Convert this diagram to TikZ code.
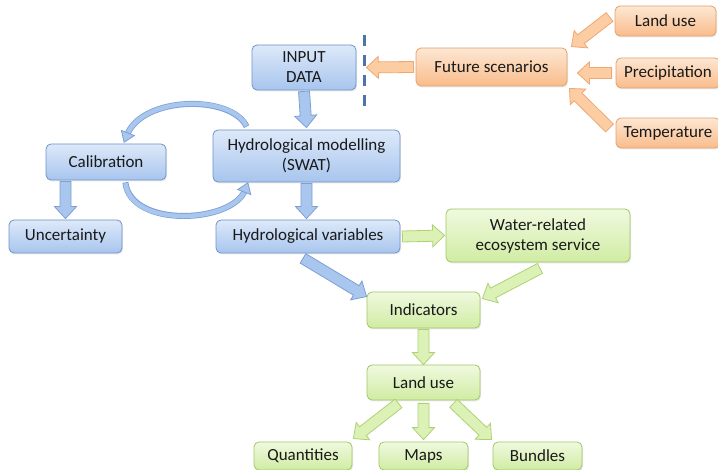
\documentclass[tikz,border=0pt]{standalone}
\usepackage{fontspec}
\setmainfont{Carlito}
\usetikzlibrary{calc,decorations.markings,shadows}
\definecolor{btop}{HTML}{DDE9F9}
\definecolor{bbot}{HTML}{A8C5EE}
\definecolor{bline}{HTML}{6F93C9}
\definecolor{otop}{HTML}{FDE7D3}
\definecolor{obot}{HTML}{F9BC8B}
\definecolor{oline}{HTML}{E3A26A}
\definecolor{gtop}{HTML}{F0F9DF}
\definecolor{gbot}{HTML}{D0ECA3}
\definecolor{gline}{HTML}{A0C867}
\definecolor{bafill}{HTML}{A9C6EE}
\definecolor{baline}{HTML}{7DA0D3}
\definecolor{oafill}{HTML}{FCCCA2}
\definecolor{oaline}{HTML}{EFA874}
\definecolor{gafill}{HTML}{DBF1B6}
\definecolor{galine}{HTML}{AED273}
\definecolor{dashcol}{HTML}{4F74A8}
\tikzset{
  box/.style={rounded corners=5pt, line width=0.8pt, align=center, inner sep=2pt,
    font=\fontsize{17}{20}\selectfont, text=black!90,
    drop shadow={opacity=0.18, shadow xshift=1pt, shadow yshift=-1.5pt}},
  bbox/.style={box, draw=bline, top color=btop, bottom color=bbot},
  obox/.style={box, draw=oline, top color=otop, bottom color=obot},
  gbox/.style={box, draw=gline, top color=gtop, bottom color=gbot},
  fat/.style 2 args={decorate, decoration={markings, mark=at position 0pt with {
    \filldraw[fill=#1, draw=#2, line width=0.8pt, line join=miter]
      (0pt,-5.5pt) -- ({\pgfdecoratedpathlength-12pt},-5.5pt) -- ({\pgfdecoratedpathlength-12pt},-11pt)
      -- (\pgfdecoratedpathlength,0pt) -- ({\pgfdecoratedpathlength-12pt},11pt)
      -- ({\pgfdecoratedpathlength-12pt},5.5pt) -- (0pt,5.5pt) -- cycle;}}},
  fatb/.style={fat={bafill}{baline}},
  fato/.style={fat={oafill}{oaline}},
  fatg/.style={fat={gafill}{galine}},
  ribout/.style={line width=6pt, draw=baline, shorten >=7pt},
  ribin/.style={line width=4.4pt, draw=bafill, shorten >=7pt, shorten <=0.8pt},
  ribtip/.style={decorate, decoration={markings, mark=at position 0.998 with {
    \filldraw[fill=bafill, draw=baline, line width=0.8pt, line join=miter]
      (1pt,0pt) -- (-9pt,-7pt) -- (-9pt,7pt) -- cycle;}}},
  dashsep/.style={draw=dashcol, line width=3pt, dash pattern=on 11pt off 9pt}
}
\begin{document}
\begin{tikzpicture}[x=1pt,y=1pt]
\useasboundingbox[fill=white] (0,0) rectangle (718,-470);

% nodes
\node[bbox, minimum width=104pt, minimum height=45pt] (inp) at (304,-67.5) {INPUT\\DATA};
\node[obox, minimum width=151pt, minimum height=38pt] (fut) at (491.5,-67) {Future scenarios};
\node[obox, minimum width=101pt, minimum height=30pt] (lu1) at (665.5,-21) {Land use};
\node[obox, minimum width=104pt, minimum height=30pt] (prec) at (668,-73) {Precipitation};
\node[obox, minimum width=104pt, minimum height=30pt] (temp) at (668,-133) {Temperature};
\node[bbox, minimum width=187pt, minimum height=52pt] (hm) at (306.5,-156) {Hydrological modelling\\(SWAT)};
\node[bbox, minimum width=120pt, minimum height=36pt] (cal) at (106,-162) {Calibration};
\node[bbox, minimum width=113pt, minimum height=33pt] (unc) at (65.5,-236.5) {Uncertainty};
\node[bbox, minimum width=184pt, minimum height=33pt] (hv) at (308,-236.5) {Hydrological variables};
\node[gbox, minimum width=184pt, minimum height=53pt] (wr) at (538,-235.5) {Water-related\\ecosystem service};
\node[gbox, minimum width=113pt, minimum height=36pt] (ind) at (423.5,-310) {Indicators};
\node[gbox, minimum width=113pt, minimum height=35pt] (lu2) at (423.5,-382.5) {Land use};
\node[gbox, minimum width=98pt, minimum height=28pt] (qua) at (303,-456) {Quantities};
\node[gbox, minimum width=89pt, minimum height=28pt] (maps) at (423.5,-456) {Maps};
\node[gbox, minimum width=89pt, minimum height=28pt] (bun) at (537.5,-456) {Bundles};

% dashed separator
\coordinate (d1) at (364,-35);
\coordinate (d2) at (364,-106);
\draw[dashsep] (d1) -- (d2);

% orange arrows
\path[fato] ($(fut.west)+(-2,0)$) -- ($(inp.east)+(10,0)$);
\path[fato] ($(lu1.west)+(-5,4)$) -- ($(fut.north east)+(4,1)$);
\path[fato] ($(prec.west)+(-4,0)$) -- ($(fut.east)+(10,-6)$);
\path[fato] ($(temp.west)+(-6,5)$) -- ($(fut.south east)+(2,-2)$);

% blue arrows
\path[fatb] ($(inp.south)+(0,-1)$) -- ($(hm.north)+(0,2)$);
\path[fatb] ($(hm.south)+(0,-1)$) -- ($(hm.south |- hv.north)+(0,1)$);
\path[fatb] ($(unc.north |- cal.south)+(0,-1)$) -- ($(unc.north)+(0,1)$);
\path[fatb] ($(hv.south)+(-5,-5)$) -- ($(ind.north west)+(0,-5)$);

% green arrows
\path[fatg] ($(hv.east)+(2,0)$) -- ($(wr.west)+(-1,0)$);
\path[fatg] ($(wr.south)+(2,-6)$) -- ($(ind.north east)+(2,-7)$);
\path[fatg] ($(ind.south)+(0,-1)$) -- ($(lu2.north)+(0,0)$);
\path[fatg] ($(lu2.south)+(-25,-3)$) -- ($(qua.north east)+(1,3)$);
\path[fatg] ($(lu2.south)+(0,-3)$) -- ($(maps.north)+(0,2)$);
\path[fatg] ($(lu2.south)+(30,-3)$) -- ($(bun.north west)+(-1,2)$);

% calibration loop
\draw[ribout] ($(hm.north west)+(34,3)$) .. controls +(-15,32) and +(18,46) .. ($(cal.north east)+(-42,2)$);
\draw[ribin] ($(hm.north west)+(34,3)$) .. controls +(-15,32) and +(18,46) .. ($(cal.north east)+(-42,2)$);
\path[ribtip] ($(hm.north west)+(34,3)$) .. controls +(-15,32) and +(18,46) .. ($(cal.north east)+(-42,2)$);
\draw[ribout] ($(cal.south east)+(-41,-2)$) .. controls +(5,-46) and +(-15,-40) .. ($(hm.south west)+(35,-1)$);
\draw[ribin] ($(cal.south east)+(-41,-2)$) .. controls +(5,-46) and +(-15,-40) .. ($(hm.south west)+(35,-1)$);
\path[ribtip] ($(cal.south east)+(-41,-2)$) .. controls +(5,-46) and +(-15,-40) .. ($(hm.south west)+(35,-1)$);
\end{tikzpicture}
\end{document}
